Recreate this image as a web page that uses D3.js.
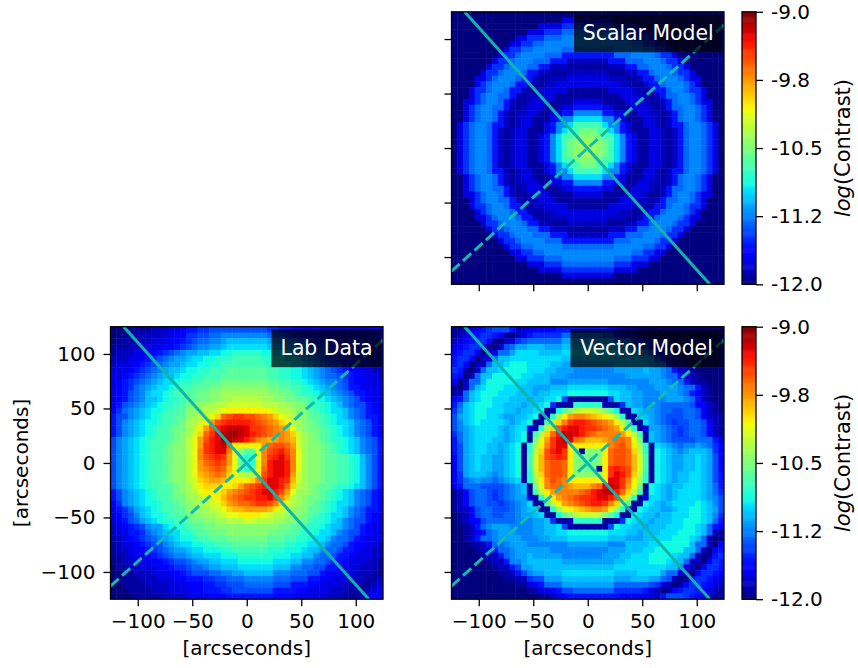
<!DOCTYPE html>
<html>
<head>
<meta charset="utf-8">
<script src="https://cdn.jsdelivr.net/npm/d3@7/dist/d3.min.js"></script>
<style>
  html, body { margin: 0; padding: 0; background: #fff; }
  text { font-family: "DejaVu Sans", sans-serif; fill: #000; }
</style>
</head>
<body>
<div id="chart"></div>
<script>
// cell values, one character per cell, base 36 (0 = -12.0, z = -9.0)
// spaces only split each row into left / middle / right so the lengths are easy to check
var scalarRows = [
  "00000000000000000000000 0 00000000000000000000000",
  "00000000000000000003333 3 33330000000000000000000",
  "00000000000000033336666 6 66663333000000000000000",
  "00000000000003336668888 8 88886663330000000000000",
  "00000000000336668889999 9 99998886663300000000000",
  "00000000003366889999999 9 99999998866330000000000",
  "00000000036688999998888 8 88889999988663000000000",
  "00000000366899998885555 5 55558889999866300000000",
  "00000003668999888555222 2 22255588899986630000000",
  "00000036689998855222111 1 11122255889998663000000",
  "00000366899985522111222 2 22211122558999866300000",
  "00003368999855211222333 3 33322211255899986330000",
  "00003689998552112233333 3 33333221125589998630000",
  "00036689985521223333111 1 11133332212558998663000",
  "00036899885212233311111 1 11111333221258899863000",
  "00336899852112333111133 3 33111133321125899863300",
  "00368998852123331113355 5 55331113332125889986300",
  "00368998521223311335599 9 99553311332212589986300",
  "003689985212331113599cc c cc995311133212589986300",
  "03689985521233113599cff f ffc99531133212558998630",
  "0368998521233111359cffh h hffc9531113321258998630",
  "036899852123311359cffhi i ihffc953113321258998630",
  "036899852123311359cfhij j jihfc953113321258998630",
  "036899852123311359cfhij k jihfc953113321258998630",
  "036899852123311359cfhij j jihfc953113321258998630",
  "036899852123311359cffhi i ihffc953113321258998630",
  "0368998521233111359cffh h hffc9531113321258998630",
  "03689985521233113599cff f ffc99531133212558998630",
  "003689985212331113599cc c cc995311133212589986300",
  "00368998521223311335599 9 99553311332212589986300",
  "00368998852123331113355 5 55331113332125889986300",
  "00336899852112333111133 3 33111133321125899863300",
  "00036899885212233311111 1 11111333221258899863000",
  "00036689985521223333111 1 11133332212558998663000",
  "00003689998552112233333 3 33333221125589998630000",
  "00003368999855211222333 3 33322211255899986330000",
  "00000366899985522111222 2 22211122558999866300000",
  "00000036689998855222111 1 11122255889998663000000",
  "00000003668999888555222 2 22255588899986630000000",
  "00000000366899998885555 5 55558889999866300000000",
  "00000000036688999998888 8 88889999988663000000000",
  "00000000003366889999999 9 99999998866330000000000",
  "00000000000336668889999 9 99998886663300000000000",
  "00000000000003336668888 8 88886663330000000000000",
  "00000000000000033336666 6 66663333000000000000000",
  "00000000000000000003333 3 33330000000000000000000",
  "00000000000000000000000 0 00000000000000000000000"
];

var labRows = [
  "00011112223345566777777 7 77766554444433333333344",
  "00111222233446677889999 9 99987765554443333333344",
  "0111222333445678899abbb b bbba99887765544 33333333",
  "11122233344567899aabccc c cccbaa99887665544333322",
  "1222333456789aabbccddee e eeddccbaa98776554433322",
  "22233456789aabccddeeeff f ffeeddccba9876654433322",
  "2333456789aabccddeeffff f fffeeddccba987665443322",
  "333456789abbcddeefffggg g gggffeeddcba98765443322",
  "33456789abbcddeefffgggg g gggffeeddcba98876544332",
  "3456789abccdeeffggghhhh h hhhggffeedcba9987544333",
  "345689abccdeffggghhiiii i iiihhggffedcba987554333",
  "345789bccdeffgghhiijjjj j jjjiihhgfeedcba98755433",
  "345789bbcdeefgghhiijjkk k kkjjiihhggfedcba9875433",
  "45789abcdeeff hiijjkkllllllkkkjjiih feedcb9877543",
  "4689abcddeffg iijkklmnnnnnnnmlkkjii gfedccb987543",
  "5779abcdeffgg ijklmostuuttsrqomlkji ggfedcb987554",
  "579abcddeffgh jklnqtuvvvvutsrqonkji hgfedccb98754",
  "579abcdeffghh jknqtvwxxxwuutsrqpmji hhgfedcb98754",
  "579abcdeffghi jlosuwxyyxwvutsrrqolj ihgfedcb98754",
  "79abcdefffghi kmqtvwyyxwvtrqpqrqplj ihgfeedcb9875",
  "79abcdeffghii kmquvwxtnnnnnqsttsqlj iihgfedcb9875",
  "79abcdeffghii kmruvwwrmiggmrtuvtrmj iihgfedcb9875",
  "79abcdeffghii kmrtuvuqmgeemruvwurmj iihggffedb975",
  "79abcdeffghii kmqstutqmgdemrvwwvrmj iihggffedb975",
  "79abcdeffghii kmqrstspmhefmsvwwvrmj iihggffedb975",
  "79abcdeffghii kmpqrsromkjkntvwwvqlj iihggffedb975",
  "79abcdeffghii klopqqpnnnnoruwwvuplj iihggffedb975",
  "79abcdefffghi jlnooonnoqstuvwwvsokj ihggfeedcb975",
  "579abcdeffghi jkmnnnoqrstuvwwvtqmjj ihgfedcb98754",
  "579abcdeffghh jjklmnprstuuvvwurokji hhgfedcb98754",
  "469abcddeffgh ijjklmoqrsstuutrolkji hgfedccb98754",
  "3568abcdeffgg iijjklmoppqqqqpnlkjii ggfedcb987554",
  "34679bcddeffg hiijjklmmnnnnmlkkjiih gfedccb987543",
  "34578abcdeeff ghhiijjkkkllkkkjjiihh feedcb9877543",
  "2345679aacdeefgghhiiiii i iiiiihhggfeedcbb9875433",
  "23355689abcceefgghhhiii i iiihhhggfeedccb98775433",
  "223456789abcddeffggghhh h hhhgggffeedccb988754333",
  "1233456779abccddeefffgg g gggfffeeddccb9887544332",
  "12234456789aabccdddeeff f fffeeedddcbb98875543322",
  "1123334567899abbcccddde e eeeedddccbb988755433322",
  "012233344567789aabbcccd d ddddcccbb99887554333221",
  "01122333445667889aabbbc c ccccbbb9988775543332221",
  "001122233344567778899aa b bbbb9998887754433322211",
  "00111222333445556677888 9 99998887775544333222112",
  "00111122223334445566777 8 88887775554433332221123",
  "00011112223333445556677 7 77775555443333222111234",
  "00001111122223333444555 5 55554444333332221112344"
];

var vectorRows = [
  "11234567775233444455555 5 55543211000000000000000",
  "12345665410235666668888 8 88775433110000000000000",
  "2345664102367888888aaaa a aaaa8885431100000000000",
  "34566410278aabbbaaabbbb b bbbbaaa7762211000000000",
  "4566402388accccbbbbcccc c ccccbbbaa97521100000000",
  "56640238bbcccccccccbbbb b bbbbbbbbbaa752210000000",
  "5640228bbcdddccccbbaaaa a aaaabbbbbba995221000000",
  "651028bbcddddcccbbaaa99 9 9999aaaaabaa98522100000",
  "54028bbdddddccbbbaaa999 9 999999aaaaaa98852210000",
  "40288bdddddccbbbb999aaa a aaa9999999aaa9885211000",
  "1028bcdddcccbbaaabbbccc c cccbbbaa999aaaa98852100",
  "128bcdddcccbbbabbcccddd d dddccbbaa999aaa98542100",
  "458bcddcccbbbabbccd7111 1 1117cbbaa9999aaa9852100",
  "58bcdddccbbba bbcd6111eeeee2116baa9 9988888744210",
  "69bcddcccbbab bcd11dgiklllkigd11cba a988778874210",
  "7abcddccbaabb cd12ejnqrrqponmje11cb a987778874221",
  "79bcdccccbabc d11gkoruvvutsrqnkg11c a987677887421",
  "79abccccbabcc 31ekotvwwvuutsrqnke13 aa98767887421",
  "68abccccbabcd 1fkosvxxwvtsrrrrqnkf1 ba98767887421",
  "58abcccbbabcd 1hmquwxwsrpppqrssrmh1 ba98777788853",
  "57abccbbabcd1 ejnruwwnnnnnnnrstrnje 1cba9899a9864",
  "57abccbbabcd1 ekotvwuni1iiinsttsoke 1dcba9abbba64",
  "47abcbbaabcd1 flptuvunihhhinsttsplf 1dcbaabbcba74",
  "47abcbbaabcd1 flpsttsnihghinsttsplf 1dcbaabbcba74",
  "47abcbbaabcd1 flpsttsnihhh1nuvutplf 1dcbaabbcba74",
  "46abbba9abcd1 ekosttsniiiiinuwvtoke 1dcbabbccba75",
  "4689a9989abc1 ejnrtsrnnnnnnnwwurnje 1dcbabbccba75",
  "35888777789ab 1hmrssrqppprswxwuqmh1 dcbabbcccba85",
  "12478876789ab 1fknqrrrrstvwxxvsokf1 dcbabccccba86",
  "12478876789aa 31eknqrstuuvwwvtoke13 ccbabccccba97",
  "124788776789a c11gknqrstuvvurokg11d cbabccccdcb97",
  "122478877789a bc11ejmnopqrrqnje21dc bbaabccddcba7",
  "012478877889a abc11dgiklllkigd11dcb babbcccddcb96",
  "0124478888899 9aab6112eeeee1116dcbb abbbccdddcb85",
  "0012589aaa9999aabbc7111 1 1117dccbbabbbcccddcb854",
  "00124589aaa999aabbccddd d dddcccbbabbbcccdddcb821",
  "00125889aaaa999aabbbccc c cccbbbaaabbcccdddcb8201",
  "0001125889aaa9999999aaa a aaa999bbbbccdddddb88204",
  "00001225889aaaaaa999999 9 999aaabbbccdddddbb82045",
  "00000122589aabaaaaa9999 9 99aaabbcccddddcbb820156",
  "000000122599abbbbbbaaaa a aaaabbccccdddcbb8220465",
  "000000012257aabbbbbbbbb b bbbbcccccccccbb83204665",
  "00000000112579aabbbcccc c ccccbbbbcccca8832046654",
  "0000000001122677aaabbbb b bbbbaaabbbaa87201466543",
  "0000000000011345888aaaa a aaaa8888887632014665432",
  "00000000000001133457788 8 88886666653201456654321",
  "00000000000000011234555 5 55555444433257776543211"
];

var axisTicks = [-100, -50, 0, 50, 100];
var cbarTicks = [-12, -11.25, -10.5, -9.75, -9];
var cbarLabels = ["-12.0", "-11.2", "-10.5", "-9.8", "-9.0"];
var solidLine = [[-113, 125], [112, -125]];
var dashedLine = [[-125, -113], [125, 113]];

var width = 858, height = 668, panelSize = 272.5, cbarWidth = 14;

var jetR = d3.scaleLinear().domain([0, .35, .66, .89, 1]).range([0, 0, 255, 255, 127]).clamp(true);
var jetG = d3.scaleLinear().domain([0, .125, .375, .64, .91, 1]).range([0, 0, 255, 255, 0, 0]).clamp(true);
var jetB = d3.scaleLinear().domain([0, .11, .34, .65, 1]).range([127, 255, 255, 0, 0]).clamp(true);
var cnorm = d3.scaleLinear().domain([-12, -9]).range([0, 1]);

function jet(v) {
  var t = cnorm(v);
  return d3.rgb(jetR(t), jetG(t), jetB(t)) + "";
}

var level = d3.scaleLinear().domain([0, 35]).range([-12, -9]);

var svg = d3.select("#chart").append("svg")
    .attr("width", width)
    .attr("height", height)
    .style("display", "block");

var defs = svg.append("defs");

function drawPanel(id, name, rows, left, top, boxWidth, showX, showY) {
  var x = d3.scaleLinear().domain([-125, 125]).range([0, panelSize]);
  var y = d3.scaleLinear().domain([-125, 125]).range([panelSize, 0]);
  var col = d3.scaleBand().domain(d3.range(47)).range([0, panelSize]);
  var row = d3.scaleBand().domain(d3.range(47)).range([0, panelSize]);

  var g = svg.append("g").attr("transform", "translate(" + left + "," + top + ")");

  defs.append("clipPath").attr("id", "clip-" + id)
    .append("rect").attr("width", panelSize).attr("height", panelSize);

  var plot = g.append("g").attr("clip-path", "url(#clip-" + id + ")");

  rows.forEach(function(str, r) {
    plot.append("g").selectAll("rect")
        .data(str.replace(/ /g, "").split(""))
      .enter().append("rect")
        .attr("x", function(d, i) { return col(i); })
        .attr("y", row(r))
        .attr("width", col.bandwidth() + .5)
        .attr("height", row.bandwidth() + .5)
        .attr("fill", function(d) { return jet(level(parseInt(d, 36))); });
  });

  var line = d3.line()
      .x(function(d) { return x(d[0]); })
      .y(function(d) { return y(d[1]); });

  plot.append("path")
      .attr("d", line(solidLine))
      .attr("fill", "none")
      .attr("stroke", "#10b4a8")
      .attr("stroke-width", 3);

  plot.append("path")
      .attr("d", line(dashedLine))
      .attr("fill", "none")
      .attr("stroke", "#10bcb0")
      .attr("stroke-width", 3)
      .style("stroke-dasharray", "11,4.5");

  // label box
  g.append("rect")
      .attr("x", panelSize - 1.5 - boxWidth)
      .attr("y", 2.5)
      .attr("width", boxWidth)
      .attr("height", 38)
      .attr("fill", "#000")
      .attr("fill-opacity", .72);

  g.append("text")
      .attr("x", panelSize - 1.5 - boxWidth / 2)
      .attr("y", 28)
      .attr("text-anchor", "middle")
      .style("font-size", "20.4px")
      .style("fill", "#fff")
      .text(name);

  var xAxis = d3.axisBottom(x).tickValues(axisTicks).tickSize(7).tickPadding(8);
  var yAxis = d3.axisLeft(y).tickValues(axisTicks).tickSize(7).tickPadding(8);
  if (!showX) xAxis.tickFormat("");
  if (!showY) yAxis.tickFormat("");

  var gx = g.append("g").attr("transform", "translate(0," + panelSize + ")").call(xAxis);
  var gy = g.append("g").call(yAxis);

  [gx, gy].forEach(function(a) {
    a.select(".domain").remove();
    a.selectAll("line").attr("stroke", "#000").attr("stroke-width", 1.3);
    a.selectAll("text").style("font-size", "20px").style("font-family", '"DejaVu Sans"');
  });

  g.append("rect")
      .attr("width", panelSize)
      .attr("height", panelSize)
      .attr("fill", "none")
      .attr("stroke", "#000")
      .attr("stroke-width", 1.3);

  if (showX) {
    g.append("text")
        .attr("x", panelSize / 2)
        .attr("y", panelSize + 56)
        .attr("text-anchor", "middle")
        .style("font-size", "20px")
        .text("[arcseconds]");
  }
  if (showY) {
    g.append("text")
        .attr("transform", "translate(-83," + (panelSize / 2) + ") rotate(-90)")
        .attr("text-anchor", "middle")
        .style("font-size", "20px")
        .text("[arcseconds]");
  }
}

function drawColorbar(left, top) {
  var y = d3.scaleLinear().domain([-12, -9]).range([panelSize, 0]);
  var steps = d3.range(256).map(function(d) { return -12 + 3 * d / 256; });
  var g = svg.append("g").attr("transform", "translate(" + left + "," + top + ")");

  g.selectAll("rect.step")
      .data(steps)
    .enter().append("rect")
      .attr("class", "step")
      .attr("x", 0)
      .attr("width", cbarWidth)
      .attr("y", function(d) { return y(d + 3 / 256); })
      .attr("height", panelSize / 256 + .5)
      .attr("fill", function(d) { return jet(d + 1.5 / 256); });

  g.append("rect")
      .attr("width", cbarWidth)
      .attr("height", panelSize)
      .attr("fill", "none")
      .attr("stroke", "#000")
      .attr("stroke-width", 1.3);

  var axis = g.append("g")
      .attr("transform", "translate(" + cbarWidth + ",0)")
      .call(d3.axisRight(y).tickValues(cbarTicks).tickSize(7).tickPadding(8)
        .tickFormat(function(d, i) { return cbarLabels[i]; }));

  axis.select(".domain").remove();
  axis.selectAll("line").attr("stroke", "#000").attr("stroke-width", 1.3);
  axis.selectAll("text").style("font-size", "20px").style("font-family", '"DejaVu Sans"');

  var label = g.append("text")
      .attr("transform", "translate(108," + (panelSize / 2) + ") rotate(-90)")
      .attr("text-anchor", "middle")
      .style("font-size", "21px");
  label.append("tspan").style("font-style", "italic").text("log");
  label.append("tspan").text("(Contrast)");
}

drawPanel("scalar", "Scalar Model", scalarRows, 451.5, 11.8, 148.5, false, false);
drawPanel("lab", "Lab Data", labRows, 110.5, 326.7, 110, true, true);
drawPanel("vector", "Vector Model", vectorRows, 451.5, 326.7, 152, true, false);
drawColorbar(742, 11.8);
drawColorbar(742, 326.7);
</script>
</body>
</html>
